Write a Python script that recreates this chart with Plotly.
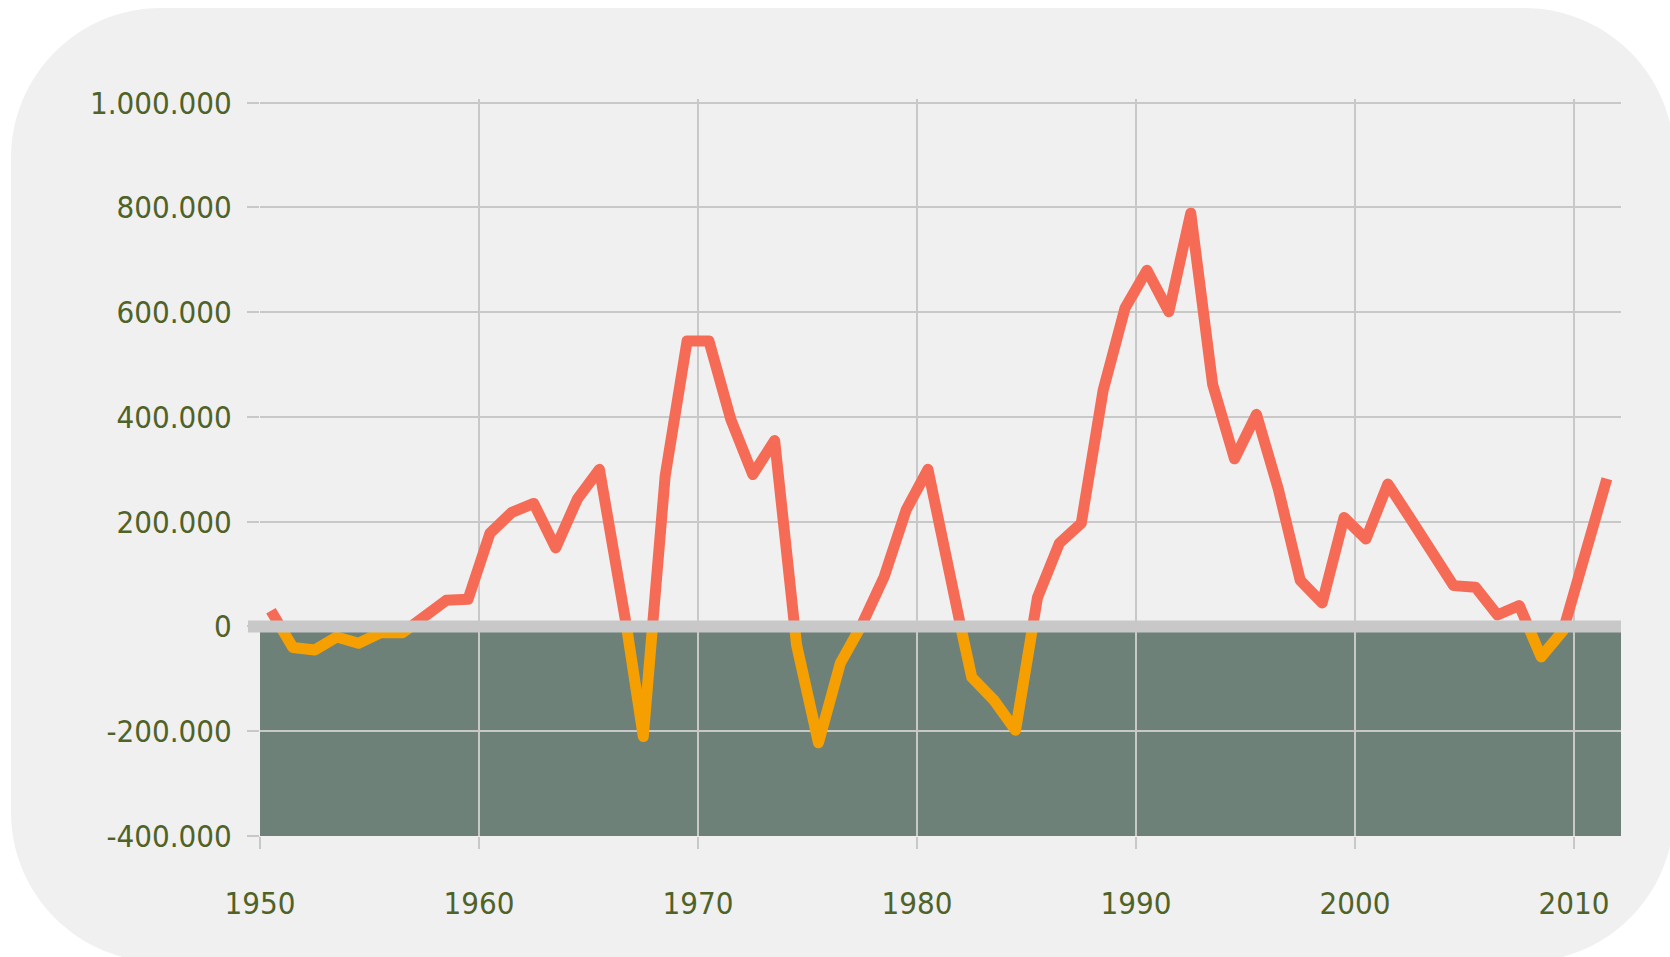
import plotly.graph_objects as go

# ---------------- data ----------------
years = list(range(1950, 2012))
values = [30000, -40000, -45000, -20000, -32000, -12000, -12000, 18000, 50000, 52000,
          178000, 218000, 235000, 150000, 244000, 300000, 65000, -210000, 287000, 545000,
          545000, 395000, 290000, 355000, -35000, -222000, -70000, 5000, 95000, 222000,
          300000, 95000, -97000, -140000, -198000, 55000, 159000, 197000, 451000, 608000,
          680000, 601000, 789000, 462000, 320000, 405000, 262000, 88000, 45000, 208000,
          167000, 272000, 208000, 143000, 78000, 75000, 22000, 40000, -58000, -8000,
          130000, 282000]
x_tick_years = [1950, 1960, 1970, 1980, 1990, 2000, 2010]
y_tick_values = [-400000, -200000, 0, 200000, 400000, 600000, 800000, 1000000]

# ---------------- style ----------------
W, H = 1670, 957
ML, MR, MT, MB = 260, 49, 99, 121
PW, PH = W - ML - MR, H - MT - MB
PX_PER_YEAR = 21.9
PX_PER_UNIT = 104.76 / 200000
RED = "#F66B56"
ORANGE = "#F5A000"
GREEN = "#6E8179"
GRID = "#C8C8C8"
PANEL = "#F0F0F0"
TEXT = "#4F6228"
FONT = "'DejaVu Sans Condensed', 'Liberation Sans Narrow', 'DejaVu Sans', sans-serif"

x_min = 1950
x_max = x_min + PW / PX_PER_YEAR
y_min = -400000
y_max = y_min + PH / PX_PER_UNIT

# yearly values drawn at mid-year
x_pos = [y + 0.5 for y in years]

# split the line at zero: positive part red, negative part orange
px, py = [], []
for i in range(len(x_pos)):
    if i > 0:
        y0, y1 = values[i - 1], values[i]
        if y0 * y1 < 0:
            x0, x1 = x_pos[i - 1], x_pos[i]
            px.append(x0 + (x1 - x0) * (-y0) / (y1 - y0))
            py.append(0)
    px.append(x_pos[i])
    py.append(values[i])
red_y = [v if v >= 0 else None for v in py]
orange_y = [v if v <= 0 else None for v in py]

fig = go.Figure()
fig.add_trace(go.Scatter(x=px, y=red_y, mode="lines",
                         line=dict(color=RED, width=11), connectgaps=False,
                         hoverinfo="skip"))
fig.add_trace(go.Scatter(x=px, y=orange_y, mode="lines",
                         line=dict(color=ORANGE, width=11), connectgaps=False,
                         hoverinfo="skip"))


def to_paper(xp, yp):
    return (xp - ML) / PW, (H - MB - yp) / PH


def rounded_rect(x0, y0, x1, y1, r):
    k = 0.5523 * r

    def P(a, b):
        u, v = to_paper(a, b)
        return f"{u:.5f},{v:.5f}"
    d = f"M{P(x0 + r, y0)} L{P(x1 - r, y0)} "
    d += f"C{P(x1 - r + k, y0)} {P(x1, y0 + r - k)} {P(x1, y0 + r)} "
    d += f"L{P(x1, y1 - r)} "
    d += f"C{P(x1, y1 - r + k)} {P(x1 - r + k, y1)} {P(x1 - r, y1)} "
    d += f"L{P(x0 + r, y1)} "
    d += f"C{P(x0 + r - k, y1)} {P(x0, y1 - r + k)} {P(x0, y1 - r)} "
    d += f"L{P(x0, y0 + r)} "
    d += f"C{P(x0, y0 + r - k)} {P(x0 + r - k, y0)} {P(x0 + r, y0)} Z"
    return d


shapes = [
    dict(type="path", xref="paper", yref="paper", layer="below",
         path=rounded_rect(11, 8, 1674, 962, 150),
         fillcolor=PANEL, line=dict(width=0)),
    dict(type="rect", xref="paper", yref="y", layer="below",
         x0=0, x1=1, y0=y_min, y1=0, fillcolor=GREEN, line=dict(width=0)),
    dict(type="line", xref="paper", yref="y", layer="above",
         x0=-12 / PW, x1=1, y0=0, y1=0, line=dict(color=GRID, width=12)),
]

fig.update_layout(
    width=W, height=H,
    margin=dict(l=ML, r=MR, t=MT, b=MB, pad=0),
    paper_bgcolor="white",
    plot_bgcolor="rgba(0,0,0,0)",
    showlegend=False,
    font=dict(family=FONT, size=31, color=TEXT),
    shapes=shapes,
    xaxis=dict(range=[x_min, x_max], tickmode="array", tickvals=x_tick_years,
               ticktext=[str(v) for v in x_tick_years],
               ticks="outside", ticklen=12, tickwidth=1.5, tickcolor=GRID,
               showgrid=True, gridcolor=GRID, gridwidth=1.5,
               zeroline=False, showline=False, ticklabelstandoff=28),
    yaxis=dict(range=[y_min, y_max], tickmode="array", tickvals=y_tick_values,
               ticktext=[f"{v:,}".replace(",", ".") for v in y_tick_values],
               ticks="outside", ticklen=12, tickwidth=1.5, tickcolor=GRID,
               showgrid=True, gridcolor=GRID, gridwidth=1.5,
               zeroline=False, showline=False, ticklabelstandoff=9),
)

post = (
    "document.body.style.margin='0';document.body.style.overflow='hidden';"
    "document.querySelectorAll('.scatterlayer path.js-line').forEach(function(p){"
    "p.style.strokeLinejoin='round';p.style.strokeLinecap='butt';});"
)
fig.write_html("out.html", config={"displayModeBar": False}, post_script=post)
